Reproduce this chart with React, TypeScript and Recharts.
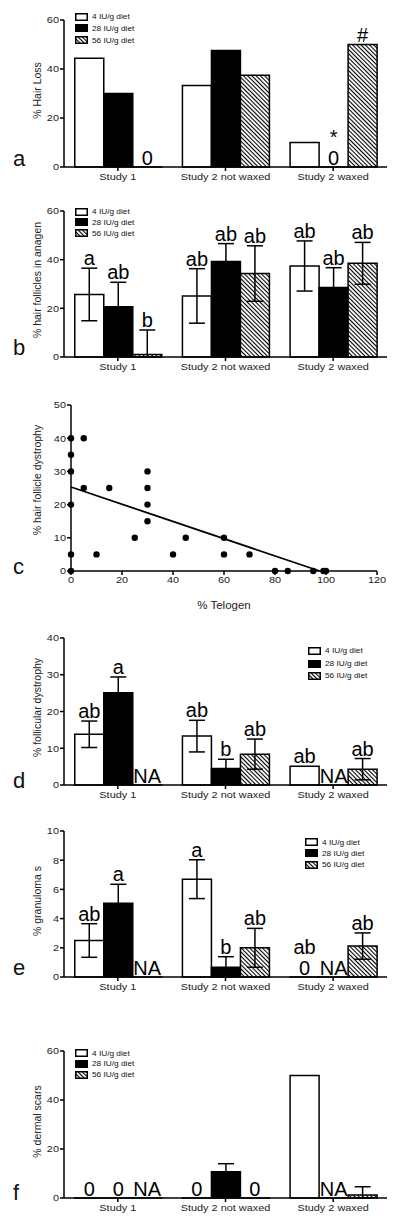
import { Bar, BarChart, ErrorBar, LabelList, Legend, Scatter, ScatterChart, XAxis, YAxis } from 'recharts'

const studies = ['Study 1', 'Study 2 not waxed', 'Study 2 waxed']
const diets = ['4 IU/g diet', '28 IU/g diet', '56 IU/g diet']
const dietFills = ['#fff', '#000', 'url(#hatch)']

// a: % hair loss
const hairLoss4 = [44.4, 33.3, 10]
const hairLoss28 = [30, 47.6, 0]
const hairLoss56 = [0, 37.5, 50]
const hairLossMarks28 = ['', '', '*']
const hairLossMarks56 = ['', '', '#']
const hairLossZero28 = ['', '', '0']
const hairLossZero56 = ['0', '', '']

// b: % hair follicles in anagen (mean, sem, letters)
const anagen4 = [25.7, 25.1, 37.4]
const anagen28 = [20.7, 39.2, 28.6]
const anagen56 = [1.0, 34.3, 38.5]
const anagenSem4 = [10.8, 11.2, 10.3]
const anagenSem28 = [10, 7.4, 8.1]
const anagenSem56 = [10.1, 11.4, 8.6]
const anagenLetters4 = ['a', 'ab', 'ab']
const anagenLetters28 = ['ab', 'ab', 'ab']
const anagenLetters56 = ['b', 'ab', 'ab']

// c: telogen vs dystrophy
const telogen = [0, 0, 0, 0, 0, 0, 5, 5, 10, 15, 25, 30, 30, 30, 30, 40, 45, 60, 60, 70, 80, 85, 95, 99, 100]
const dystrophy = [40, 35, 30, 20, 5, 0, 40, 25, 5, 25, 10, 30, 25, 20, 15, 5, 10, 10, 5, 5, 0, 0, 0, 0, 0]
const fitTelogen = [0, 97.5]
const fitDystrophy = [25.3, 0]

// d: % follicular dystrophy
const follDys4 = [13.8, 13.3, 5.1]
const follDys28 = [25.1, 4.5, 0]
const follDys56 = [0, 8.4, 4.3]
const follDysSem4 = [3.6, 4.3, 0]
const follDysSem28 = [4.3, 2.5, 0]
const follDysSem56 = [0, 4.1, 2.9]
const follDysLetters4 = ['ab', 'ab', 'ab']
const follDysLetters28 = ['a', 'b', '']
const follDysLetters56 = ['', 'ab', 'ab']
const follDysBase28 = ['', '', 'NA']
const follDysBase56 = ['NA', '', '']

// e: % granulomas
const gran4 = [2.5, 6.7, 0]
const gran28 = [5.05, 0.66, 0]
const gran56 = [0, 2.0, 2.12]
const granSem4 = [1.15, 1.33, 0]
const granSem28 = [1.3, 0.73, 0]
const granSem56 = [0, 1.33, 0.9]
const granLetters4 = ['ab', 'a', 'ab']
const granLetters28 = ['a', 'b', '']
const granLetters56 = ['', 'ab', 'ab']
const granBase4 = ['', '', '0']
const granBase28 = ['', '', 'NA']
const granBase56 = ['NA', '', '']

// f: % dermal scars
const scars4 = [0, 0, 50]
const scars28 = [0, 10.7, 0]
const scars56 = [0, 0, 1.2]
const scarsSem4 = [0, 0, 0]
const scarsSem28 = [0, 3.3, 0]
const scarsSem56 = [0, 0, 3.4]
const scarsBase4 = ['0', '0', '']
const scarsBase28 = ['0', '', 'NA']
const scarsBase56 = ['NA', '0', '']

type Series = { values: number[]; sem?: number[]; marks?: string[]; base?: string[] }

const axisLine = { stroke: '#000', strokeWidth: 1.5 }
const stretch = 1.15

function toRows(series: Series[]) {
	return studies.map((study, i) => {
		const row: Record<string, any> = { study, idx: i }
		series.forEach((s, k) => {
			const v = s.values[i]
			const e = s.sem ? s.sem[i] : 0
			row[`v${k}`] = v
			// the axis stops at 0, so the lower whisker stops there too
			row[`e${k}`] = e > 0 ? [Math.min(e, v), e] : null
		})
		return row
	})
}

function StretchTick(props: any) {
	const { x, y, payload, textAnchor, verticalAnchor } = props
	const dy = verticalAnchor === 'start' ? '0.71em' : verticalAnchor === 'end' ? '0' : '0.35em'
	return (
		<text
			transform={`translate(${x},${y}) scale(${stretch},1)`}
			textAnchor={textAnchor}
			dy={dy}
			fontSize={9.5}
			fill='#222'
		>
			{payload.value}
		</text>
	)
}

const yTitle = (text: string, shift: number) => ({
	content: (p: any) => {
		const vb = p.viewBox || { y: 0, height: 0 }
		const cy = vb.y + vb.height / 2 + shift
		return (
			<text
				transform={`translate(37,${cy}) rotate(-90)`}
				textAnchor='middle'
				dominantBaseline='central'
				fontSize={10.5}
				fill='#222'
			>
				{text}
			</text>
		)
	},
})

// letters above the error bar, "0" / "NA" sitting on the axis
const markLabel = (s: Series) => (p: any) => {
	const vb = p.viewBox && p.viewBox.width !== undefined ? p.viewBox : p
	const i = p.payload && typeof p.payload.idx === 'number' ? p.payload.idx : p.index
	const cx = vb.x + vb.width / 2
	const base = vb.y + vb.height
	const v = s.values[i]
	const e = s.sem ? s.sem[i] : 0
	const mark = s.marks ? s.marks[i] : ''
	const baseText = s.base ? s.base[i] : ''
	const top = v > 0 ? vb.y - (e * vb.height) / v - 3 : base - 23
	return (
		<g>
			{baseText && (
				<text x={cx} y={base - 2} textAnchor='middle' fontSize={20} fill='#000'>
					{baseText}
				</text>
			)}
			{mark && (
				<text x={cx} y={top} textAnchor='middle' fontSize={20} fill='#000'>
					{mark}
				</text>
			)}
		</g>
	)
}

function DietLegend({ pitch }: { pitch: number }) {
	return (
		<div>
			{diets.map((d, k) => (
				<div key={d} style={{ height: pitch, display: 'flex', alignItems: 'center' }}>
					<svg width={13} height={8} style={{ display: 'block' }}>
						<rect x={0.75} y={0.75} width={11.5} height={6.5} fill={dietFills[k]} stroke='#000' strokeWidth={1.5} />
					</svg>
					<span
						style={{
							marginLeft: 4,
							fontSize: 7.2,
							lineHeight: 1,
							color: '#111',
							display: 'inline-block',
							whiteSpace: 'nowrap',
							transform: `scaleX(${stretch})`,
							transformOrigin: 'left center',
						}}
					>
						{d}
					</span>
				</div>
			))}
		</div>
	)
}

interface IBarPanel {
	top: number
	height: number
	marginTop: number
	xAxisHeight: number
	max: number
	ticks: number[]
	title: string
	titleShift: number
	series: Series[]
	errors: boolean
	legend: { left: number; top: number; pitch: number }
}

function BarPanel(p: IBarPanel) {
	const rows = toRows(p.series)
	return (
		<div style={{ position: 'absolute', left: 0, top: p.top }}>
			<BarChart
				width={400}
				height={p.height}
				data={rows}
				margin={{ top: p.marginTop, right: 13, bottom: 0, left: 0 }}
				barCategoryGap='10%'
				barGap={0}
			>
				<XAxis
					dataKey='study'
					height={p.xAxisHeight}
					tick={StretchTick}
					tickSize={4}
					tickMargin={2}
					axisLine={axisLine}
					tickLine={axisLine}
					interval={0}
				/>
				<YAxis
					width={64}
					domain={[0, p.max]}
					ticks={p.ticks}
					tick={StretchTick}
					tickSize={4}
					tickMargin={1}
					axisLine={axisLine}
					tickLine={axisLine}
					label={yTitle(p.title, p.titleShift)}
				/>
				<Legend
					content={() => <DietLegend pitch={p.legend.pitch} />}
					layout='vertical'
					align='center'
					verticalAlign='middle'
					wrapperStyle={{ left: p.legend.left, top: p.legend.top, width: 'auto', height: 'auto' }}
				/>
				{p.series.map((s, k) => (
					<Bar
						key={k}
						dataKey={`v${k}`}
						name={diets[k]}
						fill={dietFills[k]}
						stroke='#000'
						strokeWidth={1.5}
						minPointSize={0.01}
						isAnimationActive={false}
					>
						{p.errors && <ErrorBar dataKey={`e${k}`} width={8} stroke='#000' strokeWidth={1.5} />}
						<LabelList dataKey={`v${k}`} content={markLabel(s)} />
					</Bar>
				))}
			</BarChart>
		</div>
	)
}

const renderDot = (p: any) => <circle cx={p.cx} cy={p.cy} r={3.2} fill='#000' />
const renderNothing = () => <g />

function TelogenPanel() {
	const dots = telogen.map((x, i) => ({ x, y: dystrophy[i] }))
	const fit = fitTelogen.map((x, i) => ({ x, y: fitDystrophy[i] }))
	return (
		<div style={{ position: 'absolute', left: 0, top: 385 }}>
			<ScatterChart width={400} height={230} margin={{ top: 20, right: 23, bottom: 0, left: 0 }}>
				<XAxis
					type='number'
					dataKey='x'
					domain={[0, 120]}
					ticks={[0, 20, 40, 60, 80, 100, 120]}
					height={44}
					tick={StretchTick}
					tickSize={4}
					tickMargin={1}
					axisLine={axisLine}
					tickLine={axisLine}
					label={{
						content: (p: any) => {
							const vb = p.viewBox || { x: 71, y: 186, width: 306 }
							return (
								<text
									transform={`translate(${vb.x + vb.width / 2},${vb.y + 37.5}) scale(${stretch},1)`}
									textAnchor='middle'
									fontSize={10}
									fill='#222'
								>
									% Telogen
								</text>
							)
						},
					}}
				/>
				<YAxis
					type='number'
					dataKey='y'
					domain={[0, 50]}
					ticks={[0, 10, 20, 30, 40, 50]}
					width={71}
					tick={StretchTick}
					tickSize={4}
					tickMargin={1}
					axisLine={axisLine}
					tickLine={axisLine}
					label={yTitle('% hair follicle dystrophy', -8)}
				/>
				<Scatter data={dots} shape={renderDot} isAnimationActive={false} />
				<Scatter
					data={fit}
					line={{ stroke: '#000', strokeWidth: 1.8 }}
					shape={renderNothing}
					isAnimationActive={false}
				/>
			</ScatterChart>
		</div>
	)
}

const panelLetters = [
	{ t: 'a', y: 166 },
	{ t: 'b', y: 355 },
	{ t: 'c', y: 574 },
	{ t: 'd', y: 788 },
	{ t: 'e', y: 975 },
	{ t: 'f', y: 1200 },
]

export default function App() {
	return (
		<div
			style={{
				position: 'absolute',
				left: 0,
				top: 0,
				width: 400,
				height: 1227,
				background: '#fff',
				fontFamily: '"Liberation Sans", Arial, sans-serif',
			}}
		>
			<svg width={0} height={0} style={{ position: 'absolute' }}>
				<defs>
					<pattern id='hatch' patternUnits='userSpaceOnUse' width={3} height={3} patternTransform='rotate(45)'>
						<rect width={3} height={3} fill='#fff' />
						<line x1={0} y1={1.5} x2={3} y2={1.5} stroke='#000' strokeWidth={1.1} />
					</pattern>
				</defs>
			</svg>

			<BarPanel
				top={0}
				height={185}
				marginTop={20}
				xAxisHeight={18}
				max={60}
				ticks={[0, 20, 40, 60]}
				title='% Hair Loss'
				titleShift={-3}
				errors={false}
				legend={{ left: 75, top: 10.9, pitch: 11.7 }}
				series={[
					{ values: hairLoss4 },
					{ values: hairLoss28, marks: hairLossMarks28, base: hairLossZero28 },
					{ values: hairLoss56, marks: hairLossMarks56, base: hairLossZero56 },
				]}
			/>
			<BarPanel
				top={180}
				height={200}
				marginTop={31}
				xAxisHeight={23}
				max={60}
				ticks={[0, 20, 40, 60]}
				title='% hair follicles in anagen'
				titleShift={-4}
				errors
				legend={{ left: 75, top: 26.3, pitch: 10.8 }}
				series={[
					{ values: anagen4, sem: anagenSem4, marks: anagenLetters4 },
					{ values: anagen28, sem: anagenSem28, marks: anagenLetters28 },
					{ values: anagen56, sem: anagenSem56, marks: anagenLetters56 },
				]}
			/>
			<TelogenPanel />
			<BarPanel
				top={620}
				height={185}
				marginTop={18}
				xAxisHeight={20}
				max={40}
				ticks={[0, 10, 20, 30, 40]}
				title='% follicular dystrophy'
				titleShift={-4}
				errors
				legend={{ left: 308, top: 24.8, pitch: 12.5 }}
				series={[
					{ values: follDys4, sem: follDysSem4, marks: follDysLetters4 },
					{ values: follDys28, sem: follDysSem28, marks: follDysLetters28, base: follDysBase28 },
					{ values: follDys56, sem: follDysSem56, marks: follDysLetters56, base: follDysBase56 },
				]}
			/>
			<BarPanel
				top={815}
				height={180}
				marginTop={16}
				xAxisHeight={18}
				max={10}
				ticks={[0, 2, 4, 6, 8, 10]}
				title='% granuloma s'
				titleShift={-3}
				errors
				legend={{ left: 305, top: 21.7, pitch: 11.2 }}
				series={[
					{ values: gran4, sem: granSem4, marks: granLetters4, base: granBase4 },
					{ values: gran28, sem: granSem28, marks: granLetters28, base: granBase28 },
					{ values: gran56, sem: granSem56, marks: granLetters56, base: granBase56 },
				]}
			/>
			<BarPanel
				top={1035}
				height={185}
				marginTop={16}
				xAxisHeight={22}
				max={60}
				ticks={[0, 20, 40, 60]}
				title='% dermal scars'
				titleShift={-3}
				errors
				legend={{ left: 75, top: 13, pitch: 10.7 }}
				series={[
					{ values: scars4, sem: scarsSem4, base: scarsBase4 },
					{ values: scars28, sem: scarsSem28, base: scarsBase28 },
					{ values: scars56, sem: scarsSem56, base: scarsBase56 },
				]}
			/>

			<svg width={400} height={1227} style={{ position: 'absolute', left: 0, top: 0, pointerEvents: 'none' }}>
				{panelLetters.map((l) => (
					<text key={l.t} x={13} y={l.y} fontSize={22} fill='#111'>
						{l.t}
					</text>
				))}
			</svg>
		</div>
	)
}
